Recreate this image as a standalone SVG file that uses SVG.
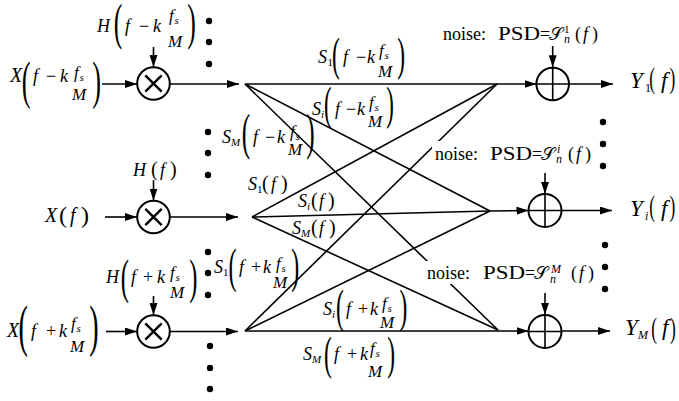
<svg xmlns="http://www.w3.org/2000/svg" width="679" height="401" viewBox="0 0 679 401" font-family="'Liberation Serif','DejaVu Serif',serif">
<defs>
<marker id="ah" viewBox="0 0 12 8" refX="12" refY="4" markerWidth="12" markerHeight="8" markerUnits="userSpaceOnUse" orient="auto"><path d="M0,0 L12,4 L0,8 z" fill="#000"/></marker>
</defs>
<style>
text{font-family:'Liberation Serif','DejaVu Serif',serif;fill:#000}
.L{font-size:20px;font-style:italic}
.n{font-size:18px;font-style:italic}
.u{font-size:18px}
.fr{font-size:17px;font-style:italic}
.sb{font-size:11px;font-style:italic}
.s1{font-size:11px}
.nt{font-size:18px}
.ss{font-size:12px;font-style:italic}
.Y{font-size:23px;font-style:italic}
.ln{stroke:#000;stroke-width:1.6;fill:none}
.ar{marker-end:url(#ah)}
.node{fill:none;stroke:#000;stroke-width:2}
.dot{fill:#000}
.bg{fill:#fff}
</style>
<rect width="679" height="401" fill="#fff"/>

<g id="connectors" class="ln">
  <line x1="102" y1="84" x2="137" y2="84" class="ar"/>
  <line x1="153.5" y1="47" x2="153.5" y2="67" class="ar"/>
  <line x1="170" y1="84" x2="239" y2="84" class="ar"/>
  <line x1="245" y1="84" x2="536.5" y2="84" class="ar"/>
  <line x1="569" y1="84" x2="613" y2="84" class="ar"/>
  <line x1="552.7" y1="46" x2="552.7" y2="67.2" class="ar"/>

  <line x1="105" y1="217" x2="137" y2="217" class="ar"/>
  <line x1="153.5" y1="180" x2="153.5" y2="200.5" class="ar"/>
  <line x1="170" y1="217" x2="238" y2="217" class="ar"/>
  <polyline points="252,217 490,211 528.5,210.5" class="ar"/>
  <line x1="561.5" y1="210.5" x2="612" y2="210.5" class="ar"/>
  <line x1="545" y1="173" x2="545" y2="193.8" class="ar"/>

  <line x1="106" y1="331.5" x2="137" y2="331.5" class="ar"/>
  <line x1="153.5" y1="296" x2="153.5" y2="315" class="ar"/>
  <line x1="170" y1="331.5" x2="238" y2="331.5" class="ar"/>
  <line x1="245" y1="331" x2="528.5" y2="331" class="ar"/>
  <line x1="561.5" y1="331" x2="610" y2="331" class="ar"/>
  <line x1="545" y1="293" x2="545" y2="314.8" class="ar"/>

  <line x1="245" y1="84" x2="490" y2="211"/>
  <line x1="245" y1="84" x2="498" y2="330"/>
  <line x1="252" y1="217" x2="497" y2="84"/>
  <line x1="252" y1="217" x2="498" y2="330"/>
  <line x1="245" y1="331" x2="497" y2="84"/>
  <line x1="245" y1="331" x2="490" y2="211"/>
</g>

<g id="mult1"><circle cx="153.5" cy="83.5" r="16.3" class="node"/><path d="M145.3,75.3 L161.7,91.7 M161.7,75.3 L145.3,91.7" stroke="#000" stroke-width="2.4"/></g>
<g id="mult2"><circle cx="153.5" cy="217" r="16.3" class="node"/><path d="M145.3,208.8 L161.7,225.2 M161.7,208.8 L145.3,225.2" stroke="#000" stroke-width="2.4"/></g>
<g id="mult3"><circle cx="153.5" cy="331.5" r="16.3" class="node"/><path d="M145.3,323.3 L161.7,339.7 M161.7,323.3 L145.3,339.7" stroke="#000" stroke-width="2.4"/></g>

<g id="sum1"><circle cx="552.7" cy="84" r="16.3" class="node"/><path d="M536.4,84 H569 M552.7,67.7 V100.3" stroke="#000" stroke-width="1.6"/></g>
<g id="sum2"><circle cx="545" cy="210.5" r="16.5" class="node"/><path d="M528.5,210.5 H561.5 M545,194 V227" stroke="#000" stroke-width="1.6"/></g>
<g id="sum3"><circle cx="545" cy="331.5" r="16.5" class="node"/><path d="M528.5,331.5 H561.5 M545,315 V348" stroke="#000" stroke-width="1.6"/></g>

<g id="dots" class="dot">
  <circle cx="209" cy="21" r="3.2"/><circle cx="209" cy="42" r="3.2"/><circle cx="209" cy="64" r="3.2"/>
  <circle cx="208" cy="132" r="3.2"/><circle cx="208" cy="153" r="3.2"/><circle cx="208" cy="175" r="3.2"/>
  <circle cx="208" cy="252" r="3.2"/><circle cx="208" cy="273" r="3.2"/><circle cx="208" cy="295" r="3.2"/>
  <circle cx="210" cy="346" r="3.2"/><circle cx="210" cy="368" r="3.2"/><circle cx="210" cy="389" r="3.2"/>
  <circle cx="603" cy="122" r="3.2"/><circle cx="603" cy="144" r="3.2"/><circle cx="603" cy="166" r="3.2"/>
  <circle cx="605" cy="245" r="3.2"/><circle cx="605" cy="267" r="3.2"/><circle cx="605" cy="289" r="3.2"/>
</g>

<g id="label-H-minus">
  <text x="97" y="32" class="n">H</text>
  <text transform="translate(113.7,38.5) scale(0.5,1)" font-size="51.5">(</text>
  <text x="125" y="32" class="n">f</text><text x="139" y="32" class="u">−</text><text x="153" y="32" class="n">k</text>
  <text x="169" y="21" class="fr">f</text><text x="174.5" y="24" class="sb">s</text>
  <text x="168" y="47" class="fr">M</text>
  <text transform="translate(187.2,38.5) scale(0.5,1)" font-size="51.5">)</text>
</g>
<g id="label-X-minus">
  <text x="10" y="82" class="L">X</text>
  <text transform="translate(21.7,97.7) scale(0.5,1)" font-size="52.8">(</text>
  <text x="33" y="82" class="n">f</text><text x="46" y="82" class="u">−</text><text x="60" y="82" class="n">k</text>
  <text x="74" y="78" class="fr">f</text><text x="79.5" y="81" class="sb">s</text>
  <text x="72" y="100" class="fr">M</text>
  <text transform="translate(92.2,97.7) scale(0.5,1)" font-size="52.8">)</text>
</g>
<g id="label-H">
  <text x="133" y="176" class="n">H</text><text x="151" y="176" font-size="20">(</text><text x="160" y="176" class="n">f</text><text x="170" y="176" font-size="20">)</text>
</g>
<g id="label-X">
  <text x="45" y="222" class="L">X</text><text x="59" y="223" font-size="24">(</text><text x="70" y="222" class="L">f</text><text x="81" y="223" font-size="24">)</text>
</g>
<g id="label-H-plus">
  <text x="106" y="283" class="n">H</text>
  <text transform="translate(120.8,293.3) scale(0.5,1)" font-size="49.2">(</text>
  <text x="131" y="283" class="n">f</text><text x="143" y="283" class="u">+</text><text x="157" y="283" class="n">k</text>
  <text x="170" y="278" class="fr">f</text><text x="175.5" y="281" class="sb">s</text>
  <text x="170" y="298" class="fr">M</text>
  <text transform="translate(189.2,293.3) scale(0.5,1)" font-size="49.2">)</text>
</g>
<g id="label-X-plus">
  <text x="7" y="337" class="L">X</text>
  <text transform="translate(18.6,345) scale(0.5,1)" font-size="56.3">(</text>
  <text x="31" y="337" class="n">f</text><text x="46" y="337" class="u">+</text><text x="59" y="337" class="n">k</text>
  <text x="71" y="329" class="fr">f</text><text x="76.5" y="332" class="sb">s</text>
  <text x="70" y="352" class="fr">M</text>
  <text transform="translate(89.2,345) scale(0.5,1)" font-size="56.3">)</text>
</g>

<g id="label-S1-minus">
  <text x="318" y="63" class="n">S</text><text x="327.5" y="66" class="s1">1</text>
  <text transform="translate(332,69.7) scale(0.5,1)" font-size="46.9">(</text>
  <text x="343" y="63" class="n">f</text><text x="356" y="63" class="u">−</text><text x="367" y="63" class="n">k</text>
  <text x="379" y="56" class="fr">f</text><text x="384.5" y="59" class="sb">s</text>
  <text x="378" y="77" class="fr">M</text>
  <text transform="translate(397.3,69.7) scale(0.5,1)" font-size="46.9">)</text>
</g>
<g id="label-Si-minus">
  <text x="312" y="115" class="n">S</text><text x="321" y="118" class="sb">i</text>
  <text transform="translate(324,118.9) scale(0.5,1)" font-size="45.7">(</text>
  <text x="335" y="115" class="n">f</text><text x="346" y="115" class="u">−</text><text x="357" y="115" class="n">k</text>
  <text x="369" y="108" class="fr">f</text><text x="374.5" y="111" class="sb">s</text>
  <text x="368" y="127" class="fr">M</text>
  <text transform="translate(386.3,118.9) scale(0.5,1)" font-size="45.7">)</text>
</g>
<g id="label-SM-minus">
  <text x="222" y="143" class="n">S</text><text x="231" y="146" class="sb" font-size="10">M</text>
  <text transform="translate(241.8,149.1) scale(0.5,1)" font-size="50.4">(</text>
  <text x="253" y="143" class="n">f</text><text x="265" y="143" class="u">−</text><text x="277" y="143" class="n">k</text>
  <text x="290" y="137" class="fr">f</text><text x="295.5" y="140" class="sb">s</text>
  <text x="288" y="155" class="fr">M</text>
  <text transform="translate(306.3,149.1) scale(0.5,1)" font-size="50.4">)</text>
</g>
<g id="label-S1">
  <text x="248" y="190" class="n">S</text><text x="257" y="193" class="s1">1</text><text x="262" y="190" font-size="20">(</text><text x="271" y="190" class="n">f</text><text x="281" y="190" font-size="20">)</text>
</g>
<g id="label-Si">
  <text x="298" y="207" class="n">S</text><text x="307" y="210" class="sb">i</text><text x="311" y="207" font-size="20">(</text><text x="319" y="207" class="n">f</text><text x="328" y="207" font-size="20">)</text>
</g>
<g id="label-SM">
  <text x="292" y="234" class="n">S</text><text x="301" y="237" class="sb" font-size="10">M</text><text x="311" y="234" font-size="20">(</text><text x="319" y="234" class="n">f</text><text x="329" y="234" font-size="20">)</text>
</g>
<g id="label-S1-plus">
  <text x="214" y="273" class="n">S</text><text x="223" y="276" class="s1">1</text>
  <text transform="translate(228.5,281.5) scale(0.5,1)" font-size="48">(</text>
  <text x="239" y="273" class="n">f</text><text x="251" y="273" class="u">+</text><text x="263" y="273" class="n">k</text>
  <text x="276" y="269" class="fr">f</text><text x="281.5" y="272" class="sb">s</text>
  <text x="273" y="288" class="fr">M</text>
  <text transform="translate(291.2,281.5) scale(0.5,1)" font-size="48">)</text>
</g>
<g id="label-Si-plus">
  <text x="323" y="315" class="n">S</text><text x="332" y="318" class="sb">i</text>
  <text transform="translate(335.9,321.7) scale(0.5,1)" font-size="46.9">(</text>
  <text x="346" y="315" class="n">f</text><text x="358" y="315" class="u">+</text><text x="370" y="315" class="n">k</text>
  <text x="382" y="309" class="fr">f</text><text x="387.5" y="312" class="sb">s</text>
  <text x="380" y="328" class="fr">M</text>
  <text transform="translate(399.4,321.7) scale(0.5,1)" font-size="46.9">)</text>
</g>
<g id="label-SM-plus">
  <text x="303" y="360" class="n">S</text><text x="312" y="363" class="sb" font-size="10">M</text>
  <text transform="translate(323.9,368.7) scale(0.5,1)" font-size="46.9">(</text>
  <text x="334" y="360" class="n">f</text><text x="347" y="360" class="u">+</text><text x="360" y="360" class="n">k</text>
  <text x="370" y="354" class="fr">f</text><text x="375.5" y="357" class="sb">s</text>
  <text x="368" y="377" class="fr">M</text>
  <text transform="translate(387.2,368.7) scale(0.5,1)" font-size="46.9">)</text>
</g>

<g id="noise1">
  <text x="443" y="40" class="nt">noise:</text>
  <text x="498" y="40" class="nt" textLength="42" lengthAdjust="spacingAndGlyphs">PSD</text>
  <text x="540" y="40" class="nt">=</text>
  <text x="549" y="40" class="nt">𝒮</text>
  <text x="564" y="43" class="ss">n</text><text x="564" y="33" class="s1">1</text>
  <text x="575" y="40" class="nt">(</text><text x="583" y="40" class="n">f</text><text x="592" y="40" class="nt">)</text>
</g>
<g id="noise-i">
  <rect x="432" y="141" width="162" height="22" class="bg"/>
  <text x="435" y="160" class="nt">noise:</text>
  <text x="490" y="160" class="nt" textLength="42" lengthAdjust="spacingAndGlyphs">PSD</text>
  <text x="532" y="160" class="nt">=</text>
  <text x="541" y="160" class="nt">𝒮</text>
  <text x="556" y="163" class="ss">n</text><text x="557" y="153" class="ss">i</text>
  <text x="568" y="160" class="nt">(</text><text x="576" y="160" class="n">f</text><text x="585" y="160" class="nt">)</text>
</g>
<g id="noise-M">
  <rect x="425" y="261" width="170" height="23" class="bg"/>
  <text x="427" y="279" class="nt">noise:</text>
  <text x="483" y="279" class="nt" textLength="42" lengthAdjust="spacingAndGlyphs">PSD</text>
  <text x="525" y="279" class="nt">=</text>
  <text x="534" y="279" class="nt">𝒮</text>
  <text x="550" y="283" class="ss">n</text><text x="551" y="273" class="ss">M</text>
  <text x="571" y="279" class="nt">(</text><text x="579" y="279" class="n">f</text><text x="588" y="279" class="nt">)</text>
</g>

<g id="out1">
  <text x="630" y="88" class="Y">Y</text><text x="645" y="92" font-size="12">1</text>
  <text transform="translate(649.2,87.6) scale(0.6,1)" font-size="29">(</text>
  <text x="661" y="88" class="Y">f</text>
  <text transform="translate(669.5,87.6) scale(0.6,1)" font-size="29">)</text>
</g>
<g id="out-i">
  <text x="630" y="216" class="Y">Y</text><text x="645" y="220" class="ss">i</text>
  <text transform="translate(649.2,215.6) scale(0.6,1)" font-size="29">(</text>
  <text x="661" y="216" class="Y">f</text>
  <text transform="translate(669.5,215.6) scale(0.6,1)" font-size="29">)</text>
</g>
<g id="out-M">
  <text x="625" y="335" class="Y">Y</text><text x="638" y="339" class="ss">M</text>
  <text transform="translate(651.2,337.6) scale(0.6,1)" font-size="29">(</text>
  <text x="662" y="335" class="Y">f</text>
  <text transform="translate(670,337.6) scale(0.6,1)" font-size="29">)</text>
</g>
</svg>
